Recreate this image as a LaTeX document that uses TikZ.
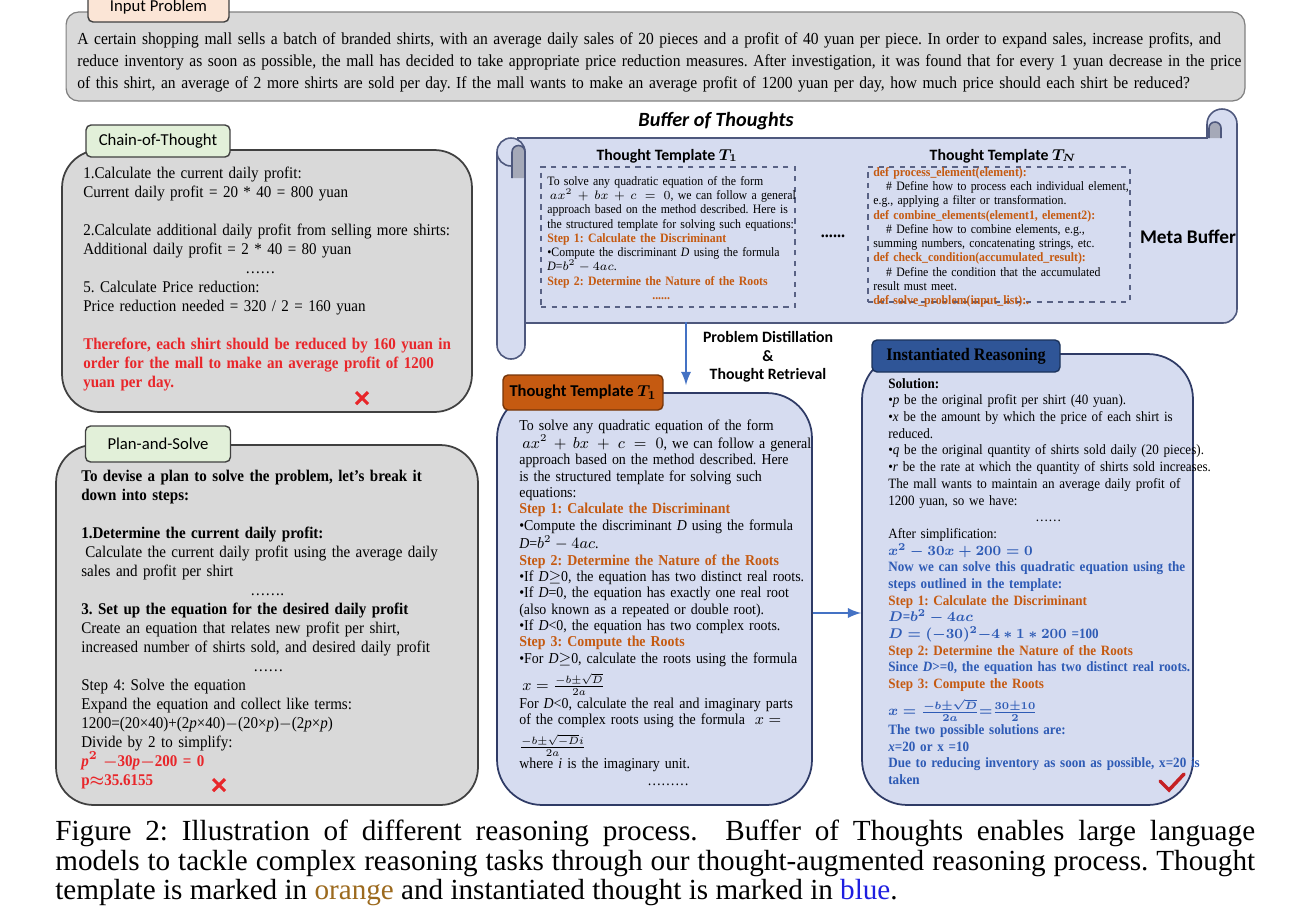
\documentclass[tikz,border=0pt]{standalone}
\usepackage{fontspec}
\setmainfont{Liberation Serif}[FakeStretch=0.92]
\newfontfamily\calib{Carlito}
\newfontfamily\capfont{Liberation Serif}
\frenchspacing

\definecolor{boxgray}{HTML}{D9D9D9}
\definecolor{lav}{HTML}{D6DCF0}
\definecolor{navy}{HTML}{2F3B66}
\definecolor{peach}{HTML}{FBE5D6}
\definecolor{mint}{HTML}{E2F0D9}
\definecolor{rust}{HTML}{C55A11}
\definecolor{tabblue}{HTML}{2F5597}
\definecolor{ortxt}{HTML}{C55A11}
\definecolor{bltxt}{HTML}{2E5BB5}
\definecolor{redtxt}{HTML}{E8262A}
\definecolor{arrowblue}{HTML}{4472C4}
\definecolor{curlgray}{HTML}{A5A9B8}
\definecolor{capor}{HTML}{9C6A1E}
\definecolor{capbl}{HTML}{1E1EE0}

\newcommand*{\ort}[1]{\textcolor{ortxt}{\bfseries #1}}
\newcommand*{\blt}[1]{\textcolor{bltxt}{\bfseries\boldmath #1}}
\newcommand*{\rdt}[1]{\textcolor{redtxt}{\bfseries\boldmath #1}}
\newcommand*{\gapgray}{10.8pt}

\begin{document}
\begin{tikzpicture}[x=0.02cm, y=-0.02cm,
	txt/.style={anchor=north west, inner sep=0pt, align=left, text width=#1},
	txt/.default=8cm,
	graybox/.style={draw=black!75, fill=boxgray, line width=1pt, rounded corners=0.75cm, inner sep=0pt},
	bluebox/.style={draw=navy, fill=lav, line width=1pt, rounded corners=0.9cm, inner sep=0pt},
	tabbox/.style={draw=black!75, line width=0.8pt, rounded corners=0.1cm, inner sep=0pt},
	dashbox/.style={draw=navy!80, dashed, line width=0.7pt, inner sep=0pt},
	scrollline/.style={draw=navy!85, line width=0.9pt},
	flow/.style={-latex, draw=arrowblue, line width=1.6pt},
	wrong/.style={draw=redtxt, line width=1.8pt},
	head/.style={font=\calib\bfseries\fontsize{9}{11}\selectfont, inner sep=0pt}]

	\useasboundingbox (0,0) rectangle (1310,913);

	% input problem
	\node[fill=boxgray, draw=black!50, rounded corners=0.25cm, line width=0.7pt,
		minimum width=23.58cm, minimum height=1.78cm] (input) at (655.5,56.5) {};
	\node[tabbox, fill=peach, minimum width=2.82cm, minimum height=0.6cm,
		font=\calib\fontsize{9.5}{11}\selectfont] (inputtab) at (158.5,7) {Input Problem};
	\node[txt=24cm, font=\fontsize{9.6}{12.5}\selectfont] (inputtext) at (77,32) {%
		A certain shopping mall sells a batch of branded shirts, with an average daily sales of 20 pieces and a profit of 40 yuan per piece. In order to expand sales, increase profits, and\\
		reduce inventory as soon as possible, the mall has decided to take appropriate price reduction measures. After investigation, it was found that for every 1 yuan decrease in the price\\
		of this shirt, an average of 2 more shirts are sold per day. If the mall wants to make an average profit of 1200 yuan per day, how much price should each shirt be reduced?};

	% chain-of-thought
	\node[graybox, minimum width=8.2cm, minimum height=5.24cm] (cot) at (267,281) {};
	\node[tabbox, fill=mint, minimum width=2.88cm, minimum height=0.64cm,
		font=\calib\fontsize{9.5}{11}\selectfont] (cottab) at (158,141) {Chain-of-Thought};
	\node[txt, font=\fontsize{9.3}{\gapgray}\selectfont] (cottext) at (83,167) {%
		1.Calculate the current daily profit:\\
		Current daily profit = 20 * 40 = 800 yuan\\[\gapgray]
		2.Calculate additional daily profit from selling more shirts:\\
		Additional daily profit = 2 * 40 = 80 yuan\\
		\hspace*{3.24cm}……\\
		5. Calculate Price reduction:\\
		Price reduction needed = 320 / 2 = 160 yuan\\[\gapgray]
		\rdt{Therefore, each shirt should be reduced by 160 yuan in}\\
		\rdt{order for the mall to make an average profit of 1200}\\
		\rdt{yuan per day.}};
	\draw[wrong] (356,392) -- (368,404) (356,404) -- (368,392);

	% plan-and-solve
	\node[graybox, minimum width=8.44cm, minimum height=7.2cm] (ps) at (267,625) {};
	\node[tabbox, fill=mint, minimum width=2.9cm, minimum height=0.72cm,
		font=\calib\fontsize{9.5}{11}\selectfont] (pstab) at (158,444) {Plan-and-Solve};
	\node[txt, font=\fontsize{9.3}{\gapgray}\selectfont] (pstext) at (81,470) {%
		\textbf{To devise a plan to solve the problem, let's break it}\\
		\textbf{down into steps:}\\[\gapgray]
		\textbf{1.Determine the current daily profit:}\\
		\hspace*{0.25em}Calculate the current daily profit using the average daily\\
		sales and profit per shirt\\
		\hspace*{3.38cm}…….\\
		\textbf{3. Set up the equation for the desired daily profit}\\
		Create an equation that relates new profit per shirt,\\
		increased number of shirts sold, and desired daily profit\\
		\hspace*{3.44cm}……\\
		Step 4: Solve the equation\\
		Expand the equation and collect like terms:\\
		1200=(20×40)+(2\textit{p}×40)$-$(20×\textit{p})$-$(2\textit{p}×\textit{p})\\
		Divide by 2 to simplify:\\
		\rdt{\textit{p}$^2$ $-$30\textit{p}$-$200 = 0}\\
		\rdt{p$\approx$35.6155}};
	\draw[wrong] (213,779) -- (225,791) (213,791) -- (225,779);

	% meta buffer scroll
	\node[font=\calib\bfseries\itshape\fontsize{11.5}{13}\selectfont, inner sep=0pt] (bot) at (716,121) {Buffer of Thoughts};
	\draw[scrollline, fill=lav] (518,138) -- (1207,138) -- (1207,124) arc[start angle=180, end angle=360, radius=15]
		-- (1237,309) arc[start angle=0, end angle=90, radius=14] -- (518,323) -- cycle;
	\draw[scrollline, fill=curlgray] (1209,138) -- (1209,128) arc[start angle=180, end angle=360, radius=6] -- (1221,138);
	\draw[scrollline, fill=lav] (497,152) -- (497,345) arc[start angle=180, end angle=0, radius=14] -- (525,152);
	\draw[scrollline, fill=lav] (511,152) circle[radius=14];
	\draw[scrollline, fill=curlgray] (512,178) -- (512,152) arc[start angle=180, end angle=360, radius=6.5] -- (525,152) -- (525,178);
	\coordinate (scrollbot) at (686,322);

	\node[head] (headone) at (667,156) {Thought Template {\boldmath$T_1$}};
	\node[head] (headn) at (1003,156) {Thought Template {\boldmath$T_N$}};
	\node[dashbox, minimum width=5.08cm, minimum height=2.8cm] (smallone) at (668,237) {};
	\node[dashbox, minimum width=5.24cm, minimum height=2.7cm] (smalln) at (999,234.5) {};
	\node[txt, font=\fontsize{7.3}{8.1}\selectfont] (smallonetext) at (547,176) {%
		To solve any quadratic equation of the form\\
		\hspace*{0.2em}$ax^2\,+\,bx\,+\,c\;=\;0$, we can follow a general\\
		approach based on the method described. Here is\\
		the structured template for solving such equations:\\
		\ort{Step 1: Calculate the Discriminant}\\
		•Compute the discriminant \textit{D} using the formula\\
		\textit{D}=$b^2-4ac$.\\
		\ort{Step 2: Determine the Nature of the Roots}\\
		\hspace*{2.1cm}\ort{......}};
	\node[txt, font=\fontsize{7.3}{8.1}\selectfont] (smallntext) at (873,167) {%
		\ort{def process\_element(element):}\\
		\hspace*{1em}\# Define how to process each individual element,\\
		e.g., applying a filter or transformation.\\
		\ort{def combine\_elements(element1, element2):}\\
		\hspace*{1em}\# Define how to combine elements, e.g.,\\
		summing numbers, concatenating strings, etc.\\
		\ort{def check\_condition(accumulated\_result):}\\
		\hspace*{1em}\# Define the condition that the accumulated\\
		result must meet.\\
		\ort{def solve\_problem(input\_list):.}};
	\node[font=\bfseries\fontsize{10}{12}\selectfont, inner sep=0pt] (more) at (833,236) {......};
	\node[font=\calib\bfseries\fontsize{11}{13}\selectfont, inner sep=0pt] (meta) at (1188,237) {Meta Buffer};

	% thought template
	\node[bluebox, minimum width=6.3cm, minimum height=8.24cm] (tmpl) at (654.5,599) {};
	\node[tabbox, fill=rust, draw=rust!60!black, minimum width=3.2cm, minimum height=0.7cm,
		font=\calib\bfseries\fontsize{9.4}{11}\selectfont] (tmpltab) at (583,392.5) {Thought Template {\boldmath$T_1$}};
	\node[txt, font=\fontsize{8.6}{9.3}\selectfont] (tmpltext) at (519,419) {%
		To solve any quadratic equation of the form\\
		\hspace*{0.2em}$ax^2\,+\,bx\;+\;c\;=\;0$, we can follow a general\\
		approach based on the method described. Here\\
		is the structured template for solving such\\
		equations:\\
		\ort{Step 1: Calculate the Discriminant}\\
		•Compute the discriminant \textit{D} using the formula\\
		\textit{D}=$b^2-4ac$.\\
		\ort{Step 2: Determine the Nature of the Roots}\\
		•If \textit{D}$\geq$0, the equation has two distinct real roots.\\
		•If \textit{D}=0, the equation has exactly one real root\\
		(also known as a repeated or double root).\\
		•If \textit{D}<0, the equation has two complex roots.\\
		\ort{Step 3: Compute the Roots}\\
		•For \textit{D}$\geq$0, calculate the roots using the formula\\[3pt]
		\hspace*{0.2em}$x=\frac{-b\pm\sqrt{D}}{2a}$\\[1pt]
		For \textit{D}<0, calculate the real and imaginary parts\\
		of the complex roots using the formula \ $x=$\\[3pt]
		$\frac{-b\pm\sqrt{-D}i}{2a}$\\[1pt]
		where \textit{i} is the imaginary unit.\\
		\hspace*{2.56cm}………};

	% instantiated reasoning
	\node[bluebox, minimum width=6.62cm, minimum height=9.02cm] (inst) at (1027.5,579.5) {};
	\node[tabbox, fill=tabblue, draw=tabblue!60!black, minimum width=3.76cm, minimum height=0.64cm,
		font=\bfseries\fontsize{10}{12}\selectfont] (insttab) at (966,356) {Instantiated Reasoning};
	\node[txt=7cm, font=\fontsize{8.1}{9.5}\selectfont] (insttext) at (888,378) {%
		\textbf{Solution:}\\
		•\textit{p} be the original profit per shirt (40 yuan).\\
		•\textit{x} be the amount by which the price of each shirt is\\
		reduced.\\
		•\textit{q} be the original quantity of shirts sold daily (20 pieces).\\
		•\textit{r} be the rate at which the quantity of shirts sold increases.\\
		The mall wants to maintain an average daily profit of\\
		1200 yuan, so we have:\\
		\hspace*{2.94cm}……\\
		After simplification:\\
		\blt{$x^2-30x+200=0$}\\
		\blt{Now we can solve this quadratic equation using the}\\
		\blt{steps outlined in the template:}\\
		\ort{Step 1: Calculate the Discriminant}\\
		\blt{$D$=$b^2-4ac$}\\
		\blt{$D=(-30)^2{-}4*1*200$ =100}\\
		\ort{Step 2: Determine the Nature of the Roots}\\
		\blt{Since \textit{D}>=0, the equation has two distinct real roots.}\\
		\ort{Step 3: Compute the Roots}\\[3pt]
		\blt{$x=\frac{-b\pm\sqrt{D}}{2a}{=}\frac{30\pm10}{2}$}\\[1pt]
		\blt{The two possible solutions are:}\\
		\blt{\textit{x}=20 or x =10}\\
		\blt{Due to reducing inventory as soon as possible, x=20 is}\\
		\blt{taken}};
	\draw[draw=redtxt!85!black, line width=2pt, line cap=round] (1160,781) -- (1169,790) -- (1184,774);

	% connectors
	\draw[flow, shorten >=4pt] (scrollbot) -- (scrollbot |- tmpl.north);
	\node[font=\calib\bfseries\fontsize{9}{10.5}\selectfont, align=center, inner sep=0pt] (distil) at (768,357)
		{Problem Distillation\\\&\\Thought Retrieval};
	\draw[flow] ([yshift=-0.28cm]tmpl.east) -- ([yshift=-0.28cm]tmpl.east -| inst.west);

	% caption
	\node[txt=24cm, align=justify, font=\capfont\fontsize{16.6}{16.8}\selectfont] (caption) at (55,820) {%
		Figure 2: Illustration of different reasoning process.\ \ Buffer of Thoughts enables large language\linebreak
		models to tackle complex reasoning tasks through our thought-augmented reasoning process. Thought\linebreak
		template is marked in \textcolor{capor}{orange} and instantiated thought is marked in \textcolor{capbl}{blue}.};

\end{tikzpicture}
\end{document}
